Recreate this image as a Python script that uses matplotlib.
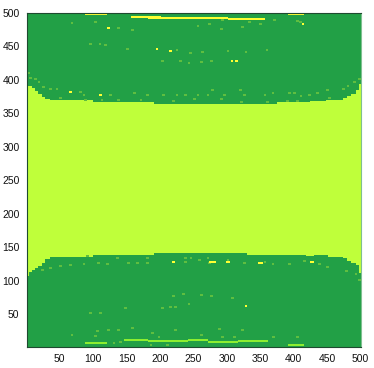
import numpy as np
import matplotlib
matplotlib.use('Agg')
import matplotlib.pyplot as plt
from matplotlib.colors import ListedColormap

# column start, boundary of the central band
upper_x = [1, 3, 8, 13, 18, 23, 28, 35, 60, 100, 145, 190, 240, 300, 374, 417, 424, 447, 465, 472, 479, 485, 492, 497]
upper_y = [395, 390, 386, 382, 378, 373, 370, 369, 368, 366, 365, 363, 362, 362, 365, 365, 367, 369, 369, 371, 375, 378, 383, 393]
lower_x = [1, 4, 8, 13, 18, 23, 28, 35, 60, 100, 145, 190, 240, 270, 330, 374, 417, 430, 450, 472, 479, 485, 492, 497]
lower_y = [106, 112, 115, 118, 121, 125, 132, 134, 135, 137, 138, 140, 141, 140, 138, 137, 136, 137, 134, 133, 129, 126, 122, 110]

# streaks: x start, x end, y
yellow_x0 = [87, 155, 180, 240, 300, 389, 272, 345, 422, 297]
yellow_x1 = [120, 200, 240, 300, 355, 414, 282, 352, 428, 303]
yellow_y = [498, 493, 492, 491, 490, 498, 127, 126, 127, 127]
bright_x0 = [87, 145, 180, 240, 270, 315, 389]
bright_x1 = [120, 180, 240, 270, 315, 360, 414]
bright_y = [6, 11, 9, 11, 8, 10, 4]

# single specks
speck_x = [67, 102, 122, 137, 157, 95, 109, 117, 150, 194, 214, 224, 202, 229, 3, 5, 13, 18, 25, 35, 45, 65, 80, 85, 110, 125,
           160, 180, 204, 224, 237, 50, 87, 112, 137, 170, 219, 255, 272, 292, 290, 322, 332, 349, 369, 404, 408, 412, 244,
           262, 300, 327, 358, 260, 275, 306, 313, 242, 277, 319, 367, 392, 399, 434, 449, 472, 479, 489, 496, 255, 270, 295,
           325, 355, 409, 422, 250, 290, 320, 359, 389, 404, 452, 23, 35, 50, 65, 85, 107, 120, 135, 152, 165, 180, 219, 237,
           237, 180, 90, 219, 234, 147, 202, 214, 222, 95, 110, 105, 122, 137, 157, 67, 102, 187, 197, 222, 130, 140, 210,
           185, 257, 272, 325, 367, 392, 449, 477, 491, 496, 245, 270, 300, 355, 414, 437, 260, 307, 327, 242, 275, 322, 287,
           260, 292, 310, 404, 368]
speck_y = [484, 485, 477, 477, 473, 453, 453, 451, 445, 445, 442, 444, 428, 427, 409, 402, 401, 396, 389, 386, 385, 381, 381,
           377, 377, 377, 379, 377, 377, 377, 377, 372, 369, 369, 369, 369, 367, 480, 483, 488, 475, 478, 486, 482, 488, 487,
           485, 483, 440, 441, 442, 441, 444, 426, 427, 427, 427, 424, 384, 384, 380, 380, 379, 380, 384, 385, 390, 396, 400,
           376, 377, 377, 377, 377, 375, 377, 370, 371, 366, 366, 368, 368, 372, 115, 119, 121, 123, 124, 126, 124, 134, 126,
           126, 126, 128, 128, 134, 134, 136, 76, 79, 58, 59, 60, 60, 51, 51, 25, 26, 26, 29, 19, 17, 21, 16, 26, 6, 8, 4, 4,
           130, 126, 126, 124, 124, 120, 114, 109, 101, 134, 134, 131, 127, 129, 124, 78, 74, 61, 64, 76, 26, 28, 19, 15, 16,
           16, 16]
yellow_speck_x = [122, 194, 214, 306, 313, 412, 327, 65, 110, 219]
yellow_speck_y = [477, 445, 442, 427, 427, 483, 61, 381, 377, 128]

dark = '#22a046'
band = '#bfff3a'
yellow = '#ffff33'
light = '#5fbe40'
bright = '#8cee30'

grid = np.zeros((500, 500), dtype=int)
for i in range(len(upper_x)):
    x0 = upper_x[i] - 1
    x1 = upper_x[i + 1] - 1 if i + 1 < len(upper_x) else 500
    grid[:upper_y[i], x0:x1] = 1
for i in range(len(lower_x)):
    x0 = lower_x[i] - 1
    x1 = lower_x[i + 1] - 1 if i + 1 < len(lower_x) else 500
    grid[:lower_y[i], x0:x1] = 0

for x, y in zip(speck_x, speck_y):
    grid[y - 2:y + 1, x - 2:x + 2] = 3
for x, y in zip(yellow_speck_x, yellow_speck_y):
    grid[y - 2:y + 1, x - 2:x + 2] = 2
for a, b, y in zip(bright_x0, bright_x1, bright_y):
    grid[y - 2:y + 1, a:b] = 4
for a, b, y in zip(yellow_x0, yellow_x1, yellow_y):
    grid[y - 2:y + 1, a:b] = 2

fig = plt.figure(figsize=(3.74, 3.68), dpi=100)
ax = fig.add_axes([26.5 / 374, (368 - 347.3) / 368, 334.5 / 374, 334.8 / 368])
ax.imshow(grid, origin='lower', extent=[0.5, 500.5, 0.5, 500.5], aspect='auto',
          cmap=ListedColormap([dark, band, yellow, light, bright]), vmin=0, vmax=4, interpolation='nearest')

ticks = list(range(50, 501, 50))
ax.set_xticks(ticks)
ax.set_yticks(ticks)
ax.tick_params(length=0, labelsize=7.5, pad=5, labelcolor='#111111')
for l in ax.get_xticklabels() + ax.get_yticklabels():
    l.set_family('Liberation Sans')
for s in ax.spines.values():
    s.set_linewidth(0.8)
    s.set_color('#1f4a30')
ax.spines['right'].set_color('#7fbf90')

fig.savefig('out.png', dpi=100)
